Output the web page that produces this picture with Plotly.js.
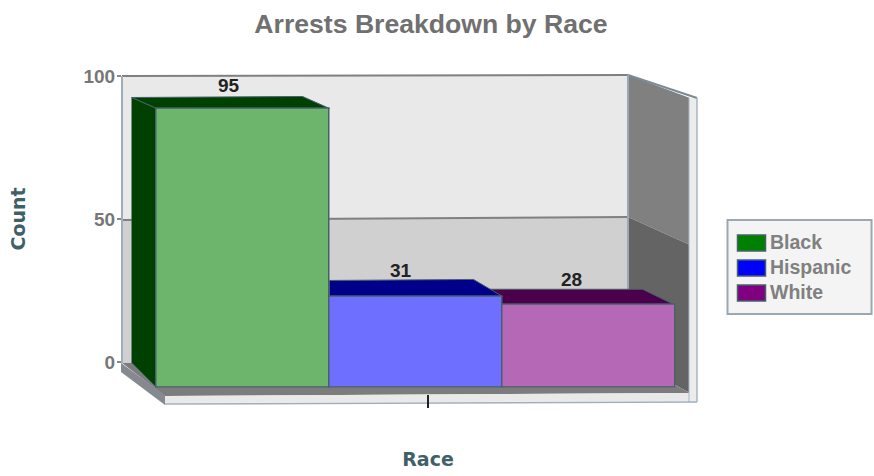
<!DOCTYPE html>
<html>
<head>
<meta charset="utf-8">
<script src="https://cdn.plot.ly/plotly-3.0.1.min.js"></script>
<style>html,body{margin:0;padding:0;background:#fff}#chart{width:874px;height:476px}</style>
</head>
<body>
<div id="chart"></div>
<script>
// ---- data ----
const categories = ['Black', 'Hispanic', 'White'];
const arrests = [95, 31, 28];
const yTicks = [0, 50, 100];
const chartTitle = 'Arrests Breakdown by Race';
const xTitle = 'Race';
const yTitle = 'Count';

// ---- styles ----
const frontColors = ['#6db56d', '#6e6eff', '#b568b5'];
const topColors = ['#004000', '#00008a', '#4a004a'];
const legendColors = ['#008000', '#0000ff', '#800080'];
const W = 874, H = 476;
const fx = x => x / W, fy = y => 1 - y / H;
const FONT = 'Liberation Sans';
const EDGE = '#46606a';

// pixel offsets of each bar's top face from the centre of its front top edge
const topFace = [
  [[-86.5, 0], [86.5, 0], [59.5, 12], [-111.5, 11]],
  [[-86.5, 0], [86.5, 0], [57.5, 17], [-86.5, 16]],
  [[-86.5, 0], [86.5, 0], [53.5, 16], [-101.5, 16]]
];
const labelShift = [[-14, 23], [-15, 26], [-17.5, 26]];

function poly(pts, fill, line, lw) {
  const d = pts.map((p, i) => (i ? 'L' : 'M') + fx(p[0]) + ' ' + fy(p[1])).join(' ') + ' Z';
  return {type: 'path', xref: 'paper', yref: 'paper', path: d, fillcolor: fill,
          line: {color: line || fill, width: lw === undefined ? 0 : lw}, layer: 'below'};
}
function seg(a, b, color, w) {
  return {type: 'line', xref: 'paper', yref: 'paper', x0: fx(a[0]), y0: fy(a[1]), x1: fx(b[0]), y1: fy(b[1]),
          line: {color: color, width: w}, layer: 'below'};
}

const shapes = [
  // back wall
  poly([[122, 76], [628, 75], [628, 217], [122, 220]], '#e9e9e9'),
  poly([[122, 220], [628, 217], [628, 360], [122, 363]], '#d0d0d0'),
  // right wall
  poly([[628, 75], [690, 98], [690, 245], [628, 217]], '#808080'),
  poly([[628, 217], [690, 245], [690, 393], [628, 360]], '#646464'),
  // floor
  poly([[122, 363], [628, 360], [690, 393], [165, 396]], '#7c7c7c'),
  poly([[121, 363], [121, 372], [165, 405], [165, 395]], '#868a90'),
  poly([[165, 396], [689, 393], [689, 401], [165, 403]], '#e9e9e9'),
  poly([[689, 98], [697, 98], [697, 402], [689, 402]], '#ececec'),
  // frame lines
  seg([122, 76], [628, 75], '#808080', 2),
  seg([628, 75], [697, 98], '#7a8a96', 2),
  seg([122, 220], [628, 217], '#808080', 2),
  seg([122, 76], [122, 363], '#a0aebc', 2),
  seg([628, 75], [628, 360], '#9aa8b6', 2),
  seg([689, 98], [689, 402], '#a8b6c4', 1),
  seg([697, 98], [697, 402], '#a8b6c4', 1.5),
  seg([165, 404], [697, 402], '#a0aebc', 1.5)
];

// top faces, drawn back to front so the taller left neighbour covers the next one
[2, 1, 0].forEach(i => {
  const d = topFace[i].map((p, k) => (k ? 'L' : 'M') + p[0] + ' ' + p[1]).join(' ') + ' Z';
  shapes.push({type: 'path', xref: 'x', yref: 'y', xsizemode: 'pixel', ysizemode: 'pixel',
               xanchor: categories[i], yanchor: arrests[i], path: d,
               fillcolor: topColors[i], line: {color: EDGE, width: 1}, layer: 'below'});
});
// left side of the first bar (x offsets in px, y in data units)
shapes.push({type: 'path', xref: 'x', yref: 'y', xsizemode: 'pixel', xanchor: categories[0],
  path: `M-111.5 ${arrests[0] + 3.75} L-86.5 ${arrests[0]} L-86.5 0 L-111.5 8.5 Z`,
  fillcolor: topColors[0], line: {color: EDGE, width: 1}, layer: 'below'});

// legend
const legendBox = {type: 'rect', xref: 'paper', yref: 'paper', x0: fx(727.5), x1: fx(871.5), y0: fy(314), y1: fy(220),
                   fillcolor: '#f4f4f4', line: {color: '#9aa8b4', width: 2}, layer: 'below'};
shapes.push(legendBox);
const annotations = [];
categories.forEach((name, i) => {
  const yc = 243 + i * 25;
  shapes.push({type: 'rect', xref: 'paper', yref: 'paper', x0: fx(737.5), x1: fx(765.5), y0: fy(yc + 8), y1: fy(yc - 8),
               fillcolor: legendColors[i], line: {color: EDGE, width: 1.5}, layer: 'below'});
  annotations.push({xref: 'paper', yref: 'paper', x: fx(767.5), y: fy(yc - 1), xanchor: 'left', yanchor: 'middle',
                    text: name, showarrow: false,
                    font: {family: FONT, size: 19.5, weight: 700, color: '#808080'}});
  annotations.push({xref: 'x', yref: 'y', x: name, y: arrests[i], xshift: labelShift[i][0], yshift: labelShift[i][1],
                    xanchor: 'center', yanchor: 'middle', text: String(arrests[i]), showarrow: false,
                    font: {family: FONT, size: 19, weight: 700, color: '#222222'}});
});

const traces = categories.map((name, i) => ({
  type: 'bar', name: name, x: [name], y: [arrests[i]], width: 1,
  marker: {color: frontColors[i], line: {color: EDGE, width: 1.5}},
  hoverinfo: 'x+y', showlegend: false
}));
traces.push({type: 'scatter', mode: 'none', x: [0.5], y: [0], xaxis: 'x2', yaxis: 'y2', showlegend: false, hoverinfo: 'skip'});

const layout = {
  width: W, height: H, margin: {l: 0, r: 0, t: 0, b: 0},
  paper_bgcolor: '#ffffff', plot_bgcolor: 'rgba(0,0,0,0)',
  showlegend: false, barmode: 'overlay', bargap: 0,
  title: {text: chartTitle, x: fx(431), xref: 'paper', xanchor: 'center', y: fy(24), yref: 'paper', yanchor: 'middle',
          font: {family: FONT, size: 26.6, weight: 700, color: '#707070'}},
  // the axis starts 25 px left of the first bar so that its side face is not clipped
  xaxis: {type: 'category', categoryorder: 'array', categoryarray: categories, domain: [fx(131.5), fx(675.5)],
          range: [-0.5 - 25 / 173, 2.5], visible: false, fixedrange: true},
  yaxis: {range: [0, 100], domain: [fy(387.5), fy(93.8)], visible: false, fixedrange: true},
  xaxis2: {domain: [fx(166), fx(690)], range: [0, 1], anchor: 'free', position: fy(394), tickmode: 'array', tickvals: [0.5],
           ticks: 'outside', ticklen: 13, tickwidth: 1.5, tickcolor: '#222222', showticklabels: false, showgrid: false,
           zeroline: false, showline: false, fixedrange: true,
           title: {text: xTitle, standoff: 45, font: {family: 'DejaVu Sans', size: 19, weight: 700, color: '#3f6068'}}},
  yaxis2: {domain: [fy(362), fy(76)], range: [0, 100], anchor: 'free', position: fx(121), tickmode: 'array', tickvals: yTicks,
           ticks: 'outside', ticklen: 4, tickwidth: 2, tickcolor: '#888888', showgrid: false, zeroline: false, showline: false,
           ticklabelstandoff: -2,
           tickfont: {family: FONT, size: 19, weight: 700, color: '#777777'}, fixedrange: true,
           title: {text: yTitle, standoff: 51, font: {family: 'DejaVu Sans', size: 19, weight: 700, color: '#3f6068'}}},
  shapes: shapes, annotations: annotations
};
Plotly.newPlot('chart', traces, layout, {displayModeBar: false, responsive: false});
</script>
</body>
</html>
